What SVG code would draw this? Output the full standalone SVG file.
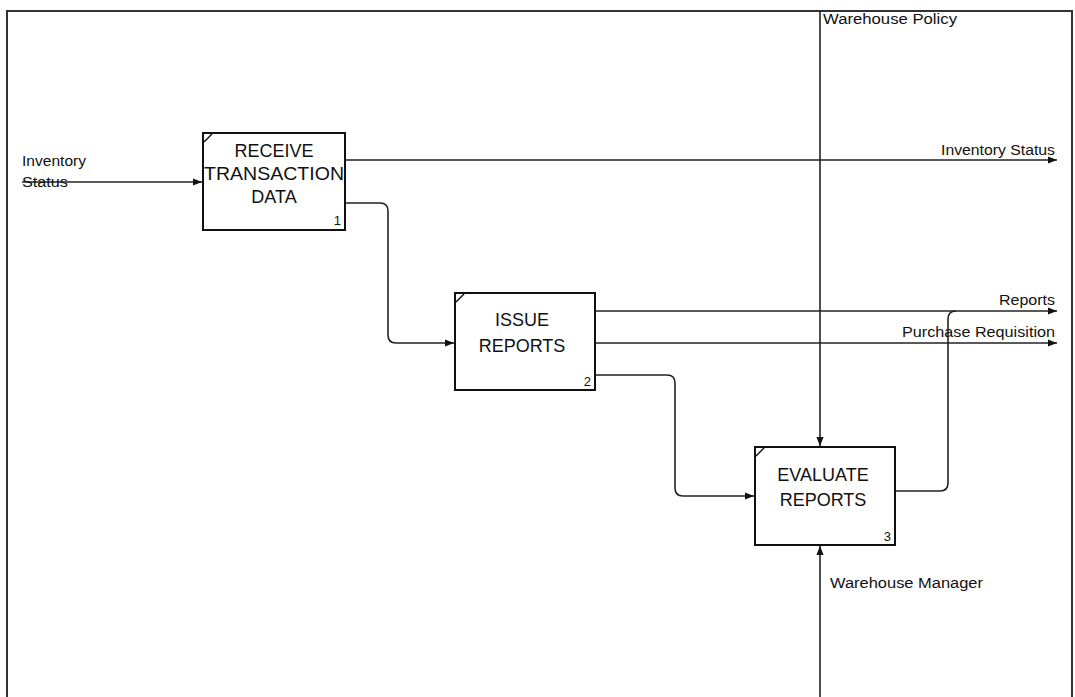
<svg xmlns="http://www.w3.org/2000/svg" width="1075" height="697" viewBox="0 0 1075 697">
<style>
.frame{fill:none;stroke:#333;stroke-width:2}
.box{fill:#fff;stroke:#111;stroke-width:2}
.tick{fill:none;stroke:#111;stroke-width:1.5}
.title{font-family:"Liberation Sans",Arial,sans-serif;font-size:18px;fill:#111;text-anchor:middle}
.num{font-family:"Liberation Sans",Arial,sans-serif;font-size:13px;fill:#111;text-anchor:end}
.lbl{font-family:"Liberation Sans",Arial,sans-serif;font-size:14px;fill:#111}
.c{fill:none;stroke:#222;stroke-width:1.6}
</style>
<defs>
<marker id="arr" viewBox="0 0 10 10" refX="10" refY="5" markerWidth="9" markerHeight="9" markerUnits="userSpaceOnUse" orient="auto">
<path d="M0,1 L10,5 L0,9 Z" fill="#111"/>
</marker>
</defs>
<rect width="1075" height="697" fill="#fff"/>
<path class="frame" d="M7,710 L7,11 L1072,11 L1072,710"/>
<g id="connectors">
<path class="c" d="M22,182 L202,182" marker-end="url(#arr)"/>
<path class="c" d="M345,160 L1057,160" marker-end="url(#arr)"/>
<path class="c" d="M345,203 L380,203 Q388,203 388,211 L388,335 Q388,343 396,343 L454,343" marker-end="url(#arr)"/>
<path class="c" d="M595,311 L1057,311" marker-end="url(#arr)"/>
<path class="c" d="M595,343 L1057,343" marker-end="url(#arr)"/>
<path class="c" d="M595,375 L667,375 Q675,375 675,383 L675,488 Q675,496 683,496 L754,496" marker-end="url(#arr)"/>
<path class="c" d="M820,11 L820,446" marker-end="url(#arr)"/>
<path class="c" d="M820,697 L820,546" marker-end="url(#arr)"/>
<path class="c" d="M895,491 L940,491 Q948,491 948,483 L948,319 Q948,311 956,311"/>
</g>
<g id="label-inventory-in">
<text class="lbl" x="22" y="166" textLength="64" lengthAdjust="spacingAndGlyphs">Inventory</text>
<text class="lbl" x="22" y="187" textLength="46" lengthAdjust="spacingAndGlyphs">Status</text>
</g>
<g id="label-inventory-out"><text class="lbl" x="1055" y="155" text-anchor="end" textLength="114" lengthAdjust="spacingAndGlyphs">Inventory Status</text></g>
<g id="label-reports"><text class="lbl" x="1055" y="305" text-anchor="end" textLength="56" lengthAdjust="spacingAndGlyphs">Reports</text></g>
<g id="label-purchase"><text class="lbl" x="1055" y="337" text-anchor="end" textLength="153" lengthAdjust="spacingAndGlyphs">Purchase Requisition</text></g>
<g id="label-policy"><text class="lbl" x="823" y="24" textLength="134" lengthAdjust="spacingAndGlyphs">Warehouse Policy</text></g>
<g id="label-manager"><text class="lbl" x="830" y="588" textLength="153" lengthAdjust="spacingAndGlyphs">Warehouse Manager</text></g>
<g id="node1">
<rect class="box" x="203" y="133" width="142" height="97"/>
<path class="tick" d="M204,142 L212,134"/>
<text class="title" x="274" y="157">RECEIVE</text>
<text class="title" x="274" y="180" textLength="140" lengthAdjust="spacingAndGlyphs">TRANSACTION</text>
<text class="title" x="274" y="203">DATA</text>
<text class="num" x="341" y="225">1</text>
</g>
<g id="node2">
<rect class="box" x="455" y="293" width="140" height="97"/>
<path class="tick" d="M456,302 L464,294"/>
<text class="title" x="522" y="326">ISSUE</text>
<text class="title" x="522" y="352">REPORTS</text>
<text class="num" x="591" y="386">2</text>
</g>
<g id="node3">
<rect class="box" x="755" y="447" width="140" height="98"/>
<path class="tick" d="M756,456 L764,448"/>
<text class="title" x="823" y="481">EVALUATE</text>
<text class="title" x="823" y="506">REPORTS</text>
<text class="num" x="891" y="541">3</text>
</g>
</svg>
